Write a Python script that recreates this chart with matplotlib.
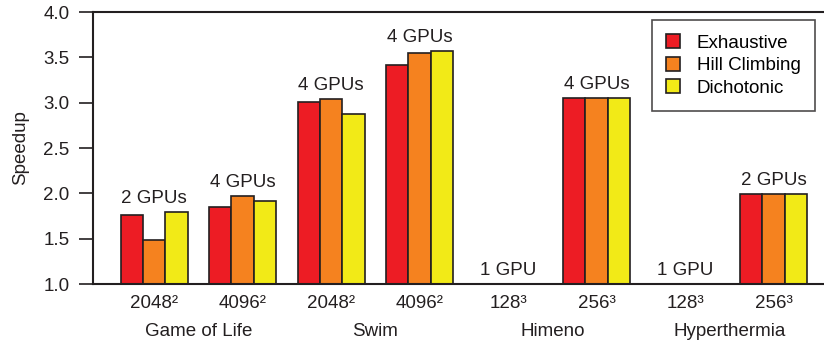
import numpy as np
import matplotlib
matplotlib.use("Agg")
import matplotlib.pyplot as plt
from matplotlib.patches import Patch

plt.rcParams['font.family'] = ['Liberation Sans', 'DejaVu Sans']

sizes = ["2048²", "4096²", "2048²", "4096²", "128³", "256³", "128³", "256³"]
apps = ["Game of Life", "Swim", "Himeno", "Hyperthermia"]
gpus = ["2 GPUs", "4 GPUs", "4 GPUs", "4 GPUs", "1 GPU", "4 GPUs", "1 GPU", "2 GPUs"]
exhaustive = [1.76, 1.85, 3.01, 3.41, 1.0, 3.05, 1.0, 1.99]
hill = [1.49, 1.97, 3.04, 3.55, 1.0, 3.05, 1.0, 1.99]
dicho = [1.79, 1.915, 2.87, 3.57, 1.0, 3.05, 1.0, 1.99]

colors = ["#ED1C24", "#F5821F", "#F2EA17"]
names = ["Exhaustive", "Hill Climbing", "Dichotonic"]
edge = "#231F20"
fs = 13.5

fig = plt.figure(figsize=(8.24, 3.45), dpi=100)
ax = fig.add_axes([0.1129, 0.1768, 0.8871, 0.7884])

x = np.arange(len(sizes))
w = 0.252
for i, vals in enumerate([exhaustive, hill, dicho]):
    ax.bar(x + (i - 1) * w, vals, w, color=colors[i], edgecolor=edge, linewidth=1.2, zorder=2)

# GPU count labels above each group
for xi, lab, a, b, c in zip(x, gpus, exhaustive, hill, dicho):
    ax.text(xi, max(a, b, c) + 0.06, lab, ha='center', va='bottom', fontsize=fs, color=edge)

ax.set_xlim(-0.69, 7.57)
ax.set_ylim(1.0, 4.0)
ax.set_yticks(np.arange(1.0, 4.01, 0.5))
ax.set_yticklabels([f"{v:.1f}" for v in np.arange(1.0, 4.01, 0.5)], fontsize=fs, color=edge)
ax.set_xticks(x)
ax.set_xticklabels(sizes, fontsize=fs, color=edge)
ax.tick_params(axis='x', length=0, pad=8)
ax.tick_params(axis='y', length=10, width=1.2, color=edge, pad=7)
ax.set_ylabel("Speedup", fontsize=fs, color=edge, labelpad=10)

for s in ["left", "top", "bottom"]:
    ax.spines[s].set_linewidth(1.5)
    ax.spines[s].set_color(edge)
ax.spines["right"].set_visible(False)

for k, app in enumerate(apps):
    ax.text(2 * k + 0.5, -0.176, app, transform=ax.get_xaxis_transform(),
            ha='center', va='center', fontsize=fs, color=edge)

handles = [Patch(facecolor=c, edgecolor=edge, linewidth=1.2) for c in colors]
leg = ax.legend(handles, names, loc='upper right', bbox_to_anchor=(0.995, 0.99),
                fontsize=fs, frameon=True, fancybox=False, handlelength=0.75, handleheight=0.75,
                handletextpad=0.9, labelspacing=0.27, borderpad=0.75, borderaxespad=0.3)
leg.get_frame().set_edgecolor(edge)
leg.get_frame().set_linewidth(1.2)

fig.savefig("out.png", dpi=100)
